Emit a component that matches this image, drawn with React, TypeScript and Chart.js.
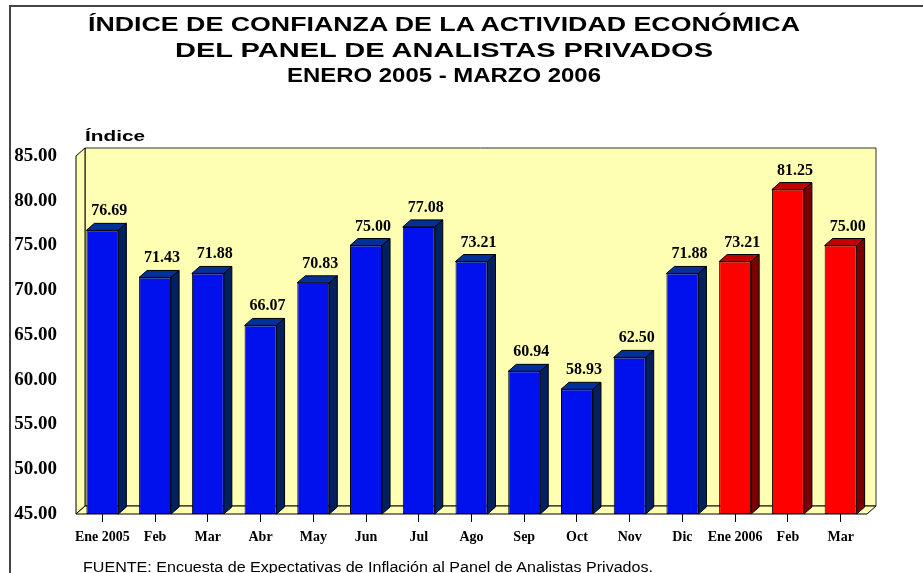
import React, { useEffect, useLayoutEffect, useRef } from "react";
import { Chart, registerables } from "chart.js";

Chart.register(...registerables);

const months = ["Ene 2005", "Feb", "Mar", "Abr", "May", "Jun", "Jul", "Ago", "Sep", "Oct", "Nov", "Dic", "Ene 2006", "Feb", "Mar"];
const values = [76.69, 71.43, 71.88, 66.07, 70.83, 75.0, 77.08, 73.21, 60.94, 58.93, 62.5, 71.88, 73.21, 81.25, 75.0];
const years = [2005, 2005, 2005, 2005, 2005, 2005, 2005, 2005, 2005, 2005, 2005, 2005, 2006, 2006, 2006];
const yMin = 45;
const yMax = 85;
const yStep = 5;

const titleLines = [
  "ÍNDICE DE CONFIANZA DE LA ACTIVIDAD ECONÓMICA",
  "DEL PANEL DE ANALISTAS PRIVADOS",
  "ENERO 2005 - MARZO 2006",
];
const axisTitle = "Índice";
const sourceNote = "FUENTE:  Encuesta de Expectativas de Inflación al Panel de Analistas Privados.";

const WALL = "#FFFFB3";
const FACES: Record<number, { front: string; top: string; side: string }> = {
  2005: { front: "#0011EE", top: "#00309A", side: "#00205E" },
  2006: { front: "#FF0000", top: "#C00000", side: "#7A0000" },
};
const WDX = 9, WDY = -8;
const BDX = 8, BDY = -7;
const SERIF = "'Liberation Serif', 'Times New Roman', serif";
const SANS = "'Liberation Sans', Arial, sans-serif";

function poly(ctx: CanvasRenderingContext2D, pts: number[][], fill: string, stroke: string) {
  ctx.beginPath();
  ctx.moveTo(pts[0][0], pts[0][1]);
  for (let i = 1; i < pts.length; i++) ctx.lineTo(pts[i][0], pts[i][1]);
  ctx.closePath();
  ctx.fillStyle = fill;
  ctx.fill();
  ctx.strokeStyle = stroke;
  ctx.lineWidth = 1;
  ctx.stroke();
}

const threeD = {
  id: "threeD",
  beforeDatasetsDraw(chart: any) {
    const { ctx, chartArea } = chart;
    const { left, right, top, bottom } = chartArea;
    ctx.save();
    poly(ctx, [[left + WDX, top + WDY], [right + WDX, top + WDY], [right + WDX, bottom + WDY], [left + WDX, bottom + WDY]], WALL, "#333");
    poly(ctx, [[left, top], [left + WDX, top + WDY], [left + WDX, bottom + WDY], [left, bottom]], WALL, "#000");
    poly(ctx, [[left, bottom], [left + WDX, bottom + WDY], [right + WDX, bottom + WDY], [right, bottom]], WALL, "#000");
    ctx.restore();
  },
  afterDatasetsDraw(chart: any) {
    const { ctx, chartArea } = chart;
    const meta = chart.getDatasetMeta(0);
    ctx.save();
    meta.data.forEach((bar: any, i: number) => {
      const { x, y, base, width } = bar.getProps(["x", "y", "base", "width"], true);
      const b = Math.min(base, chartArea.bottom);
      const l = x - width / 2;
      const r = x + width / 2;
      const c = FACES[years[i]];
      poly(ctx, [[l, y], [l + BDX, y + BDY], [r + BDX, y + BDY], [r, y]], c.top, "#000");
      poly(ctx, [[r, y], [r + BDX, y + BDY], [r + BDX, b + BDY], [r, b]], c.side, "#000");
      ctx.fillStyle = "#000";
      ctx.font = `bold 16px ${SERIF}`;
      ctx.textAlign = "center";
      ctx.textBaseline = "alphabetic";
      ctx.fillText(values[i].toFixed(2), x + 7, y + BDY - 8);
    });
    ctx.restore();
  },
};

function FitText(props: { text: string; x: number; y: number; w: number; size: number; weight: string; family: string; center?: boolean }) {
  const ref = useRef<HTMLDivElement>(null);
  useLayoutEffect(() => {
    const el = ref.current;
    if (!el) return;
    el.style.transform = "none";
    const nat = el.getBoundingClientRect().width;
    el.style.transform = `scaleX(${props.w / nat})`;
  });
  const left = props.center ? props.x - props.w / 2 : props.x;
  return (
    <div
      ref={ref}
      style={{
        position: "absolute",
        left,
        top: props.y,
        whiteSpace: "nowrap",
        fontFamily: props.family,
        fontWeight: props.weight as any,
        fontSize: props.size,
        lineHeight: `${props.size}px`,
        color: "#000",
        transformOrigin: "left top",
      }}
    >
      {props.text}
    </div>
  );
}

export default function App() {
  const canvasRef = useRef<HTMLCanvasElement>(null);

  useEffect(() => {
    if (!canvasRef.current) return;
    const chart = new Chart(canvasRef.current, {
      type: "bar",
      data: {
        labels: months,
        datasets: [
          {
            data: values,
            base: yMin,
            backgroundColor: years.map((y) => FACES[y].front),
            borderColor: "#000",
            borderWidth: 1,
            borderSkipped: false,
            barPercentage: 0.607,
            categoryPercentage: 1,
          } as any,
        ],
      },
      options: {
        animation: false,
        responsive: false,
        devicePixelRatio: 1,
        layout: { padding: { left: 0, right: 56, top: 156, bottom: 0 } },
        plugins: { legend: { display: false }, tooltip: { enabled: false }, title: { display: false } },
        scales: {
          x: {
            type: "category",
            offset: true,
            grid: { display: true, drawOnChartArea: false, drawTicks: true, tickLength: 8, color: "#000", offset: false },
            border: { display: false },
            ticks: { color: "#000", font: { family: SERIF, weight: "bold", size: 14 }, padding: 7, maxRotation: 0, autoSkip: false },
            afterFit: (s: any) => { s.height = 59; },
          },
          y: {
            min: yMin,
            max: yMax,
            grid: { display: false, drawTicks: false },
            border: { display: false },
            ticks: {
              stepSize: yStep,
              color: "#000",
              font: { family: SERIF, weight: "bold", size: 19 },
              padding: 19,
              callback: (v: any) => Number(v).toFixed(2),
            },
            afterFit: (s: any) => { s.width = 76; },
          },
        },
      },
      plugins: [threeD],
    });
    return () => chart.destroy();
  }, []);

  return (
    <div style={{ position: "fixed", left: 0, top: 0, width: 923, height: 573, overflow: "hidden", background: "#fff" }}>
      <div style={{ position: "absolute", left: 9, top: 5, width: 1000, height: 1000, borderLeft: "2px solid #444", borderTop: "2px solid #444" }} />
      <canvas ref={canvasRef} width={923} height={573} style={{ position: "absolute", left: 0, top: 0 }} />
      <FitText text={titleLines[0]} x={444} y={14} w={712} size={20} weight="bold" family={SANS} center />
      <FitText text={titleLines[1]} x={444} y={40} w={538} size={20} weight="bold" family={SANS} center />
      <FitText text={titleLines[2]} x={444} y={65} w={314} size={20} weight="bold" family={SANS} center />
      <FitText text={axisTitle} x={85} y={128} w={60} size={15} weight="bold" family={SANS} />
      <FitText text={sourceNote} x={83} y={560} w={570} size={14} weight="normal" family={SANS} />
    </div>
  );
}
